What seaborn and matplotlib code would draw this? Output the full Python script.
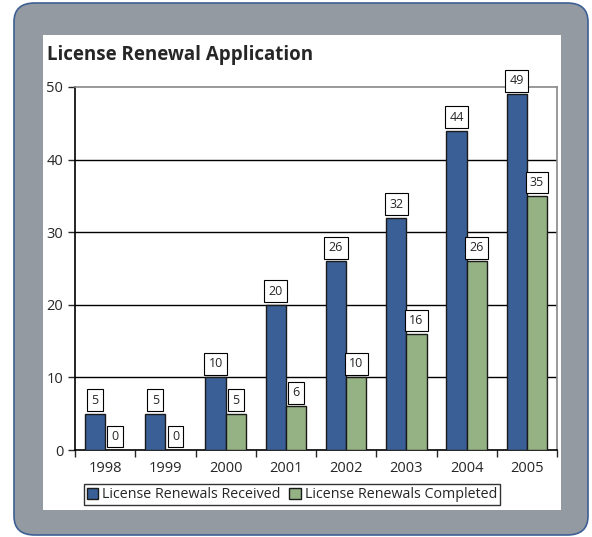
import matplotlib
matplotlib.use("Agg")
import matplotlib.pyplot as plt
import pandas as pd
import seaborn as sns
from matplotlib.patches import FancyBboxPatch, Rectangle

# Datos del gráfico
years = ["1998", "1999", "2000", "2001", "2002", "2003", "2004", "2005"]
received = [5, 5, 10, 20, 26, 32, 44, 49]
completed = [0, 0, 5, 6, 10, 16, 26, 35]
series_names = ["License Renewals Received", "License Renewals Completed"]
colors = ["#3a5f96", "#94b283"]

df = pd.DataFrame({
    "year": years * 2,
    "value": received + completed,
    "series": [series_names[0]] * len(years) + [series_names[1]] * len(years),
})

sns.set_style("white")
plt.rcParams["font.family"] = ["Open Sans", "DejaVu Sans"]

W, H = 592, 537
fig = plt.figure(figsize=(W / 100, H / 100), dpi=100)
fig.patch.set_facecolor("white")

# marco gris redondeado y panel blanco
frame = FancyBboxPatch((14 / W, 2 / H), 574 / W, 532 / H,
                       boxstyle="round,pad=0,rounding_size=0.035",
                       transform=fig.transFigure, facecolor="#939aa1",
                       edgecolor="#3d5f94", linewidth=1.2, zorder=0)
fig.patches.append(frame)
panel = Rectangle((43 / W, 1 - 510 / H), 518 / W, 475 / H,
                  transform=fig.transFigure, facecolor="white",
                  edgecolor="none", zorder=1)
fig.patches.append(panel)

ax = fig.add_axes([75 / W, 1 - 450 / H, 482 / W, 363 / H])
ax.set_zorder(2)
sns.barplot(data=df, x="year", y="value", hue="series", palette=colors,
            width=0.67, edgecolor="#1a1a1a", linewidth=1.0, saturation=1,
            ax=ax, zorder=3)

ax.set_ylim(0, 50)
ax.set_xlim(-0.5, len(years) - 0.5)
ax.set_yticks([0, 10, 20, 30, 40, 50])
ax.set_xlabel("")
ax.set_ylabel("")
for y in [10, 20, 30, 40]:
    ax.axhline(y, color="black", linewidth=1.0, zorder=1)

ax.spines["left"].set_color("black")
ax.spines["bottom"].set_color("black")
ax.spines["top"].set_color("#888888")
ax.spines["right"].set_color("#888888")
for s in ax.spines.values():
    s.set_linewidth(1.2)

ax.tick_params(axis="x", which="major", length=0, labelsize=10.5, pad=8)
ax.set_xticks([i - 0.5 for i in range(len(years) + 1)], minor=True)
ax.tick_params(axis="x", which="minor", length=5, width=1, direction="out", bottom=True)
ax.tick_params(axis="y", length=5, width=1, direction="out", left=True, labelsize=10.5)

for cont in ax.containers:
    ax.bar_label(cont, padding=5, fontsize=9,
                 bbox=dict(boxstyle="square,pad=0.35", facecolor="white",
                           edgecolor="black", linewidth=0.8))

leg = ax.legend(loc="upper center", bbox_to_anchor=(0.45, -0.095), ncol=2,
                frameon=True, fancybox=False, edgecolor="black", fontsize=10.3,
                handlelength=0.8, handleheight=0.8, handletextpad=0.3,
                columnspacing=0.6, borderpad=0.2, borderaxespad=0)
leg.get_frame().set_linewidth(1.0)

fig.text(47 / W, 1 - 55 / H, "License Renewal Application", fontsize=13.5,
         fontweight="bold", va="center", ha="left", zorder=5)

fig.savefig("out.png", dpi=100)
